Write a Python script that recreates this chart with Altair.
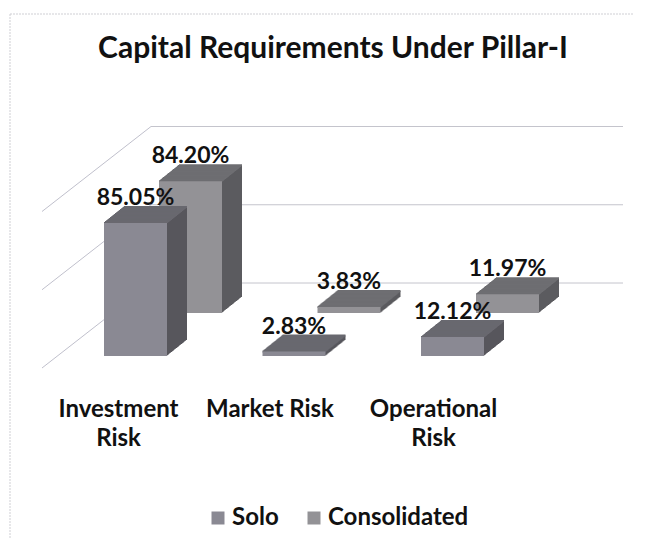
import altair as alt
import pandas as pd

# ---------------- data ----------------
categories = ["Investment Risk", "Market Risk", "Operational Risk"]
category_labels = ["Investment\nRisk", "Market Risk", "Operational\nRisk"]
series_names = ["Solo", "Consolidated"]
solo = [0.8505, 0.0283, 0.1212]
consolidated = [0.8420, 0.0383, 0.1197]
grid_values = [0.0, 0.5, 1.0]
title_text = ["Capital Requirements Under Pillar-I"]

# ---------------- layout / style ----------------
W, H = 625, 530
FONT = "Lato"
BAR_W = 63
DX, DY = 20, 16          # depth of each 3-D bar (pixels)
N = 20                   # extrusion steps
CONS_DX, CONS_DY = 55, -43   # second row (Consolidated) behind the first
WALL_DY = -73                # back wall

SOLO_C = {"front": "#8a8993", "top": "#69686f", "side": "#57565c"}
CONS_C = {"front": "#939296", "top": "#6e6e72", "side": "#5b5b5f"}

xscale = alt.Scale(domain=categories, range=[48.25, 523.75], paddingInner=0, paddingOuter=0)
yscale = alt.Scale(domain=[0, 1], range=[348, 191.5])
cscale = alt.Scale(domain=series_names, range=[SOLO_C["front"], CONS_C["front"]])

df_solo = pd.DataFrame({"category": categories, "value": solo, "series": "Solo"})
df_cons = pd.DataFrame({"category": categories, "value": consolidated, "series": "Consolidated"})
df_grid = pd.DataFrame({"v": grid_values})
df_cat = pd.DataFrame({"category": categories, "label": category_labels})
df_title = pd.DataFrame({"t": title_text})

X = alt.X("category:N", scale=xscale, axis=None)
Y = alt.Y("value:Q", scale=yscale, axis=None)

legend = alt.Legend(
    orient="none", legendX=198, legendY=498, direction="horizontal", title=None,
    symbolType="square", symbolSize=169, symbolStrokeWidth=0, symbolOpacity=1,
    labelFont=FONT, labelFontSize=24, labelFontWeight="bold", labelColor="#111111",
    columnPadding=23, labelOffset=2, padding=0,
)


def bar3d(df, ox, oy, cols):
    base = alt.Chart(df)
    layers = []
    for i in range(N, 0, -1):
        sx = ox + DX * i / N
        sy = oy - DY * i / N
        layers.append(
            base.mark_bar(size=BAR_W, color=cols["side"], xOffset=sx, x2Offset=sx,
                          yOffset=sy, y2Offset=sy).encode(x=X, y=Y)
        )
    for i in range(N, -1, -1):
        sx = ox + DX * i / N
        sy = oy - DY * i / N
        layers.append(
            base.mark_tick(orient="horizontal", size=BAR_W, thickness=2, color=cols["top"],
                           opacity=1, xOffset=sx, yOffset=sy).encode(x=X, y=Y)
        )
    layers.append(
        base.mark_bar(size=BAR_W, xOffset=ox, x2Offset=ox, yOffset=oy, y2Offset=oy, opacity=1).encode(
            x=X, y=Y, color=alt.Color("series:N", scale=cscale, legend=legend)
        )
    )
    layers.append(
        base.mark_text(font=FONT, fontSize=23, fontWeight="bold", color="#111111",
                       baseline="alphabetic", align="center", dy=-18,
                       xOffset=ox, yOffset=oy).encode(
            x=X, y=Y, text=alt.Text("value:Q", format=".2%")
        )
    )
    return layers


# frame of the chart area
frame_left = alt.Chart(df_title).mark_rule(color="#cfcfd4", strokeWidth=1, strokeDash=[2, 1]).encode(
    x=alt.value(2), y=alt.value(6), y2=alt.value(H)
)
frame_top = alt.Chart(df_title).mark_rule(color="#cfcfd4", strokeWidth=1, strokeDash=[2, 1]).encode(
    x=alt.value(2), x2=alt.value(W), y=alt.value(6)
)

# back-wall gridlines
back_grid = alt.Chart(df_grid).mark_rule(color="#c4c4cc", strokeWidth=1, yOffset=WALL_DY).encode(
    y=alt.Y("v:Q", scale=yscale, axis=None), x=alt.value(143), x2=alt.value(615)
)
# side-wall gridlines
side_grid = alt.Chart(df_grid).mark_rule(color="#c0c0cc", strokeWidth=1, yOffset=12, y2Offset=WALL_DY).encode(
    y=alt.Y("v:Q", scale=yscale, axis=None), y2="v:Q", x=alt.value(34), x2=alt.value(143)
)

title = alt.Chart(df_title).mark_text(
    font=FONT, fontSize=30, fontWeight="bold", color="#111111", align="center", baseline="alphabetic"
).encode(text="t:N", x=alt.value(325), y=alt.value(50))

cat_label_layers = []
for cat, off in zip(categories, [-17, -24, -19]):
    cat_label_layers.append(
        alt.Chart(df_cat[df_cat["category"] == cat]).mark_text(
            font=FONT, fontSize=24, fontWeight="bold", color="#111111", align="center",
            baseline="alphabetic", lineBreak="\n", lineHeight=29, dy=61, xOffset=off
        ).encode(x=X, y=alt.datum(0), text="label:N")
    )

layers = [frame_left, frame_top, back_grid, side_grid]
layers += bar3d(df_cons, CONS_DX, CONS_DY, CONS_C)
layers += bar3d(df_solo, 0, 0, SOLO_C)
layers += cat_label_layers + [title]

chart = alt.layer(*layers).properties(
    width=W, height=H, autosize=alt.AutoSizeParams(type="none"), padding=0, background="white"
).configure_view(stroke=None)

chart.save("out.html", embed_options={"renderer": "svg", "actions": False})
